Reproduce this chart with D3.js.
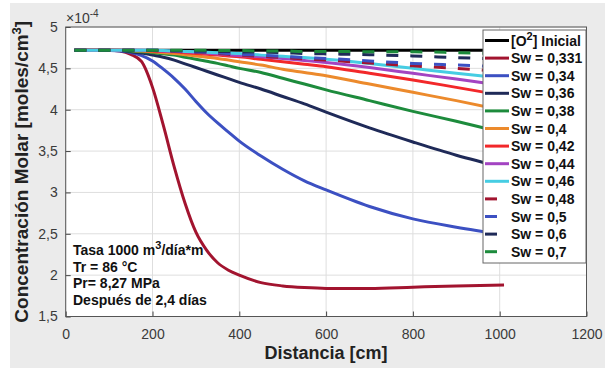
<!DOCTYPE html>
<html>
<head>
<meta charset="utf-8">
<script src="https://cdn.jsdelivr.net/npm/d3@7"></script>
<style>
  body { margin: 0; background: #fff; }
  text { font-family: Arial, "Liberation Sans", Helvetica, sans-serif; }
</style>
</head>
<body>
<svg id="chart" width="610" height="369"></svg>
<script>
// distance grid (cm) and concentration (x1e-4 moles/cm3)
var distancia = [20, 100, 125, 150, 175, 200, 225, 250, 275, 300, 325, 350, 375, 400, 450, 500, 550, 600, 700, 800, 900, 1010];

var inicial = [4.72, 4.72, 4.72, 4.72, 4.72, 4.72, 4.72, 4.72, 4.72, 4.72, 4.72, 4.72, 4.72, 4.72, 4.72, 4.72, 4.72, 4.72, 4.72, 4.72, 4.72, 4.72];
var sw331 = [4.72, 4.72, 4.71, 4.67, 4.58, 4.27, 3.81, 3.31, 2.87, 2.52, 2.30, 2.15, 2.06, 2.00, 1.91, 1.87, 1.85, 1.84, 1.84, 1.855, 1.87, 1.88];
var sw34 = [4.72, 4.715, 4.71, 4.69, 4.655, 4.59, 4.49, 4.38, 4.25, 4.10, 3.96, 3.84, 3.73, 3.62, 3.44, 3.28, 3.14, 3.03, 2.83, 2.68, 2.58, 2.49];
var sw36 = [4.72, 4.72, 4.715, 4.70, 4.685, 4.66, 4.635, 4.60, 4.555, 4.51, 4.465, 4.42, 4.375, 4.33, 4.25, 4.16, 4.07, 3.97, 3.78, 3.61, 3.45, 3.30];
var sw38 = [4.72, 4.72, 4.72, 4.71, 4.70, 4.69, 4.675, 4.66, 4.635, 4.61, 4.585, 4.56, 4.53, 4.50, 4.45, 4.38, 4.31, 4.24, 4.11, 3.98, 3.86, 3.72];
var sw40 = [4.72, 4.72, 4.72, 4.715, 4.71, 4.70, 4.69, 4.68, 4.665, 4.65, 4.635, 4.62, 4.60, 4.58, 4.54, 4.49, 4.45, 4.41, 4.31, 4.21, 4.11, 3.99];
var sw42 = [4.72, 4.72, 4.72, 4.72, 4.715, 4.71, 4.705, 4.70, 4.69, 4.68, 4.67, 4.66, 4.65, 4.64, 4.61, 4.58, 4.55, 4.52, 4.44, 4.36, 4.27, 4.17];
var sw44 = [4.72, 4.72, 4.72, 4.72, 4.72, 4.715, 4.71, 4.705, 4.70, 4.695, 4.685, 4.675, 4.665, 4.655, 4.64, 4.62, 4.595, 4.57, 4.51, 4.44, 4.37, 4.29];
var sw46 = [4.72, 4.72, 4.72, 4.72, 4.72, 4.72, 4.715, 4.71, 4.705, 4.70, 4.695, 4.69, 4.685, 4.68, 4.66, 4.645, 4.63, 4.61, 4.56, 4.50, 4.44, 4.38];
var sw48 = [4.72, 4.72, 4.72, 4.72, 4.72, 4.715, 4.71, 4.705, 4.70, 4.695, 4.69, 4.68, 4.67, 4.66, 4.645, 4.63, 4.615, 4.60, 4.565, 4.53, 4.50, 4.46];
var sw50 = [4.72, 4.72, 4.72, 4.72, 4.72, 4.72, 4.715, 4.71, 4.705, 4.70, 4.695, 4.69, 4.68, 4.67, 4.66, 4.645, 4.63, 4.62, 4.59, 4.56, 4.54, 4.52];
var sw60 = [4.72, 4.72, 4.72, 4.72, 4.72, 4.72, 4.72, 4.715, 4.715, 4.71, 4.71, 4.705, 4.705, 4.70, 4.695, 4.69, 4.68, 4.675, 4.665, 4.65, 4.63, 4.61];
var sw70 = [4.72, 4.72, 4.72, 4.72, 4.72, 4.72, 4.72, 4.72, 4.72, 4.72, 4.72, 4.715, 4.715, 4.715, 4.71, 4.71, 4.705, 4.705, 4.70, 4.70, 4.69, 4.675];

var xTicks = [0, 200, 400, 600, 800, 1000, 1200];
var yTicks = [1.5, 2, 2.5, 3, 3.5, 4, 4.5, 5];

var series = [
  {label: "inicial", values: inicial, color: "#000000", dash: null},
  {label: "Sw = 0,331", values: sw331, color: "#a2142f", dash: null},
  {label: "Sw = 0,34", values: sw34, color: "#3c50c2", dash: null},
  {label: "Sw = 0,36", values: sw36, color: "#1f2a58", dash: null},
  {label: "Sw = 0,38", values: sw38, color: "#1d8b3c", dash: null},
  {label: "Sw = 0,4", values: sw40, color: "#ec8a2c", dash: null},
  {label: "Sw = 0,42", values: sw42, color: "#f2282a", dash: null},
  {label: "Sw = 0,44", values: sw44, color: "#a344c2", dash: null},
  {label: "Sw = 0,46", values: sw46, color: "#46cde3", dash: null},
  {label: "Sw = 0,48", values: sw48, color: "#a2142f", dash: "12,12"},
  {label: "Sw = 0,5", values: sw50, color: "#3c50c2", dash: "12,12"},
  {label: "Sw = 0,6", values: sw60, color: "#1f2a58", dash: "12,12"},
  {label: "Sw = 0,7", values: sw70, color: "#1d8b3c", dash: "12,12"}
];

function draw() {
  var svg = d3.select("#chart");
  var pl = 65.7, pr = 586.5, pt = 27, pb = 316.5;

  // grey figure panel
  svg.append("rect").attr("x", 10).attr("y", 3).attr("width", 595).attr("height", 365).attr("fill", "#ebebeb");

  var x = d3.scaleLinear().domain([0, 1200]).range([pl, pr]);
  var y = d3.scaleLinear().domain([1.5, 5]).range([pb, pt]);

  svg.append("rect").attr("x", pl).attr("y", pt).attr("width", pr - pl).attr("height", pb - pt).attr("fill", "#fff");

  // grid
  svg.append("g").selectAll("line").data(xTicks).enter().append("line")
    .attr("x1", d => x(d)).attr("x2", d => x(d)).attr("y1", pt).attr("y2", pb)
    .attr("stroke", "#dedede").attr("stroke-width", 1);
  svg.append("g").selectAll("line").data(yTicks).enter().append("line")
    .attr("x1", pl).attr("x2", pr).attr("y1", d => y(d)).attr("y2", d => y(d))
    .attr("stroke", "#dedede").attr("stroke-width", 1);

  var fmt = d => String(d).replace(".", ",");

  var xAxis = svg.append("g").attr("transform", "translate(0," + pb + ")")
    .call(d3.axisBottom(x).tickValues(xTicks).tickSize(-5).tickPadding(13).tickFormat(fmt));
  var yAxis = svg.append("g").attr("transform", "translate(" + pl + ",0)")
    .call(d3.axisLeft(y).tickValues(yTicks).tickSize(-5).tickPadding(8).tickFormat(fmt));
  [xAxis, yAxis].forEach(function(a) {
    a.select(".domain").remove();
    a.selectAll("line").attr("stroke", "#444");
    a.selectAll("text").attr("fill", "#3a3a3a").style("font-size", "14px")
      .style("font-family", "Arial, 'Liberation Sans', sans-serif");
  });

  // curves
  var line = d3.line().x((d, i) => x(distancia[i])).y(d => y(d)).curve(d3.curveMonotoneX);
  var plot = svg.append("g");
  series.forEach(function(s) {
    plot.append("path").datum(s.values)
      .attr("d", line)
      .attr("fill", "none")
      .attr("stroke", s.color)
      .attr("stroke-width", 3)
      .attr("stroke-dasharray", s.dash);
  });

  // box
  svg.append("rect").attr("x", pl).attr("y", pt).attr("width", pr - pl).attr("height", pb - pt)
    .attr("fill", "none").attr("stroke", "#555").attr("stroke-width", 1);

  // exponent
  var ex = svg.append("text").attr("x", 66).attr("y", 23).attr("fill", "#3a3a3a").style("font-size", "14px");
  ex.append("tspan").text("\u00d710");
  ex.append("tspan").attr("dy", -6).style("font-size", "10px").text("-4");

  // axis titles
  svg.append("text").attr("x", (pl + pr) / 2).attr("y", 359).attr("text-anchor", "middle")
    .style("font-size", "18px").style("font-weight", "bold").attr("fill", "#222").text("Distancia [cm]");
  var yt = svg.append("text").attr("transform", "translate(28," + ((pt + pb) / 2) + ") rotate(-90)")
    .attr("text-anchor", "middle").style("font-size", "19px").style("font-weight", "bold").attr("fill", "#222");
  yt.append("tspan").text("Concentración Molar [moles/cm");
  yt.append("tspan").attr("dy", -7).style("font-size", "13px").text("3");
  yt.append("tspan").attr("dy", 7).text("]");

  // annotation
  var note = svg.append("g").style("font-size", "14px").style("font-weight", "bold").attr("fill", "#111");
  var n1 = note.append("text").attr("x", 73).attr("y", 255);
  n1.append("tspan").text("Tasa 1000 m");
  n1.append("tspan").attr("dy", -6).style("font-size", "11px").text("3");
  n1.append("tspan").attr("dy", 6).text("/día*m");
  note.append("text").attr("x", 73).attr("y", 271.5).text("Tr = 86 °C");
  note.append("text").attr("x", 73).attr("y", 288).text("Pr= 8,27 MPa");
  note.append("text").attr("x", 73).attr("y", 304.5).text("Después de 2,4 días");

  // legend
  var lg = svg.append("g");
  lg.append("rect").attr("x", 483).attr("y", 30).attr("width", 103).attr("height", 233)
    .attr("fill", "#fff").attr("stroke", "#666").attr("stroke-width", 1);
  var rowH = 17.6, row0 = 40.5;
  series.forEach(function(s, i) {
    var cy = row0 + i * rowH;
    lg.append("line").attr("x1", 485).attr("x2", 509).attr("y1", cy).attr("y2", cy)
      .attr("stroke", s.color).attr("stroke-width", 3).attr("stroke-dasharray", s.dash);
    var t = lg.append("text").attr("x", 511).attr("y", cy + 5).style("font-size", "14px")
      .style("font-weight", "bold").attr("fill", "#111");
    if (i === 0) {
      t.append("tspan").text("[O");
      t.append("tspan").attr("dy", -6).style("font-size", "11px").text("2");
      t.append("tspan").attr("dy", 6).text("] Inicial");
    } else {
      t.text(s.label);
    }
  });
}

draw();
</script>
</body>
</html>
